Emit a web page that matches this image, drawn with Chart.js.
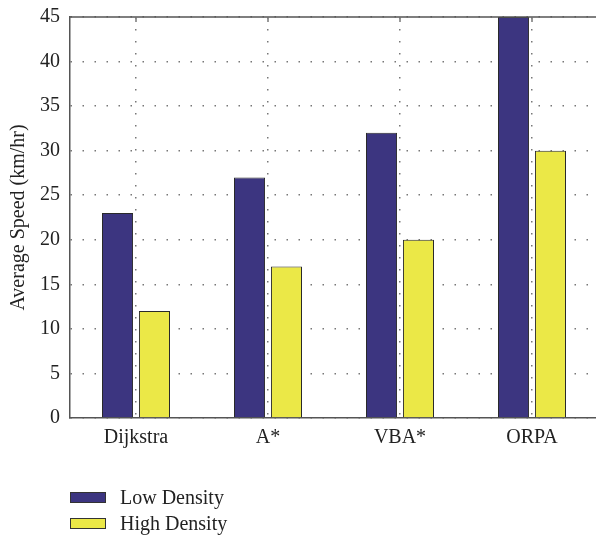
<!DOCTYPE html>
<html>
<head>
<meta charset="utf-8">
<script src="https://cdn.jsdelivr.net/npm/chart.js@4.4.1/dist/chart.umd.min.js"></script>
<style>
  html, body { margin: 0; padding: 0; background: #fff; overflow: hidden; }
  #wrap { position: relative; width: 600px; height: 537px; }
  #legend { position: absolute; left: 70px; top: 484px; font-family: "Liberation Serif", serif; font-size: 20px; color: #222; }
  .item { display: flex; align-items: center; height: 26px; }
  .box { width: 34px; height: 9px; border: 1px solid #333; margin-right: 14px; }
</style>
</head>
<body>
<div id="wrap">
  <canvas id="myChart" width="600" height="537"></canvas>
  <div id="legend"></div>
</div>
<script>
const categories = ['Dijkstra', 'A*', 'VBA*', 'ORPA'];
const lowDensity = [23, 27, 32, 45];
const highDensity = [12, 17, 20, 30];
const yTicks = [0, 5, 10, 15, 20, 25, 30, 35, 40, 45];

const serif = '"Liberation Serif", "Times New Roman", serif';

// top border and right border of the box, with small inward ticks on top
const framePlugin = {
  id: 'frame',
  afterDraw(chart) {
    const ctx = chart.ctx;
    const a = chart.chartArea;
    const x = chart.scales.x;
    ctx.save();
    ctx.strokeStyle = '#555';
    ctx.lineWidth = 1.5;
    ctx.beginPath();
    ctx.moveTo(a.left, a.top);
    ctx.lineTo(a.right, a.top);
    ctx.lineTo(a.right, a.bottom);
    ctx.stroke();
    ctx.strokeStyle = '#777';
    x.ticks.forEach((t, i) => {
      const px = x.getPixelForTick(i);
      ctx.beginPath();
      ctx.moveTo(px, a.top);
      ctx.lineTo(px, a.top + 5);
      ctx.stroke();
    });
    ctx.restore();
  }
};

const ctx = document.getElementById('myChart').getContext('2d');
const myChart = new Chart(ctx, {
  type: 'bar',
  data: {
    labels: categories,
    datasets: [{
      label: 'Low Density',
      data: lowDensity,
      backgroundColor: '#3c3580',
      borderColor: '#2a2a2a',
      borderWidth: 1
    }, {
      label: 'High Density',
      data: highDensity,
      backgroundColor: '#ebe847',
      borderColor: '#2a2a2a',
      borderWidth: 1
    }]
  },
  options: {
    responsive: false,
    animation: false,
    layout: {
      padding: { left: 0, right: 2, top: 17, bottom: 79 }
    },
    categoryPercentage: 0.56,
    barPercentage: 0.84,
    plugins: {
      legend: { display: false },
      tooltip: { enabled: false }
    },
    scales: {
      x: {
        grid: {
          offset: false,
          color: '#777',
          lineWidth: 1.5,
          drawTicks: false
        },
        border: { color: '#555', width: 1.5, dash: [1.5, 10.5] },
        ticks: {
          color: '#222',
          padding: 8,
          font: { family: serif, size: 20 }
        },
        afterFit(scale) { scale.height = 40; }
      },
      y: {
        min: 0,
        max: 45,
        afterBuildTicks(scale) { scale.ticks = yTicks.map(v => ({ value: v })); },
        grid: {
          color: '#777',
          lineWidth: 1.5,
          drawTicks: false
        },
        border: { color: '#555', width: 1.5, dash: [1.5, 10.5] },
        ticks: {
          color: '#222',
          padding: 10,
          font: { family: serif, size: 20 }
        },
        title: {
          display: true,
          text: 'Average Speed (km/hr)',
          color: '#222',
          padding: { top: 7, bottom: 0 },
          font: { family: serif, size: 20 }
        },
        afterFit(scale) {
          scale.width = 70;
          scale.paddingTop = 0;
          scale.paddingBottom = 0;
        }
      }
    }
  },
  plugins: [framePlugin]
});

const legend = document.getElementById('legend');
myChart.data.datasets.forEach(ds => {
  const item = document.createElement('div');
  item.className = 'item';
  const box = document.createElement('span');
  box.className = 'box';
  box.style.background = ds.backgroundColor;
  const label = document.createElement('span');
  label.textContent = ds.label;
  item.appendChild(box);
  item.appendChild(label);
  legend.appendChild(item);
});
</script>
</body>
</html>
